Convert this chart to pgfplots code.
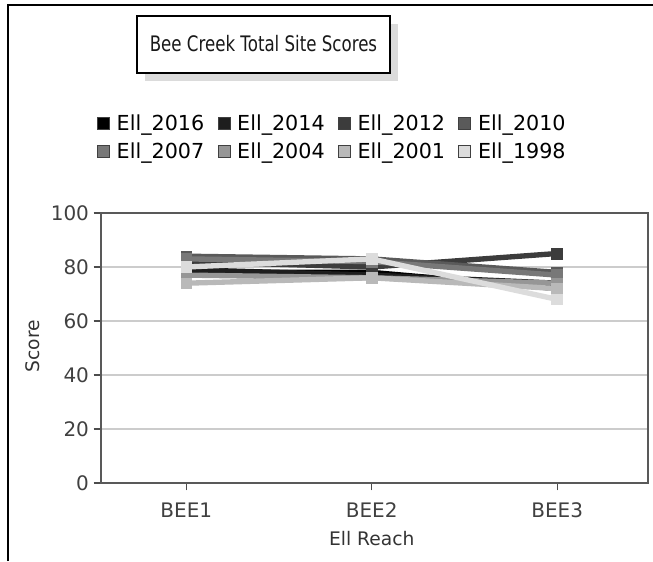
\documentclass[border=0pt]{standalone}
\usepackage{fontspec}
\setmainfont{DejaVu Sans}
\usepackage{pgfplots}
\pgfplotsset{compat=1.18}

\definecolor{c2016}{HTML}{000000}
\definecolor{c2014}{HTML}{1E1E1E}
\definecolor{c2012}{HTML}{3C3C3C}
\definecolor{c2010}{HTML}{5A5A5A}
\definecolor{c2007}{HTML}{787878}
\definecolor{c2004}{HTML}{969696}
\definecolor{c2001}{HTML}{B9B9B9}
\definecolor{c1998}{HTML}{DCDCDC}

\pgfplotsset{
  ell/.style={color=#1, line width=4pt, mark=square*, mark size=4pt,
    mark options={line width=0.5pt}},
}

\begin{document}
\begin{tikzpicture}[x=0.75pt,y=0.75pt]
\path[use as bounding box] (0,0) rectangle (653,561);
% outer frame
\draw[line width=1.5pt] (8,0) -- (8,556) -- (653,556);
% title box with shadow
\fill[black!14] (145,480) rectangle (398,537);
\draw[fill=white, line width=1.1pt] (137,488) rectangle (390,545);
\node[font=\fontsize{16}{18}\selectfont, xscale=0.78, text=black!90] at (263.5,517) {Bee Creek Total Site Scores};

\begin{axis}[
  at={(75.75pt,58.5pt)}, anchor=south west,
  scale only axis, width=410.25pt, height=202.5pt,
  xmin=0.54, xmax=3.49, ymin=0, ymax=100,
  xtick={1,2,3}, xticklabels={BEE1,BEE2,BEE3},
  ytick={0,20,40,60,80,100},
  tick align=outside, xtick pos=bottom, ytick pos=left,
  major tick length=5.5pt,
  tick style={draw=black!70, line width=0.8pt},
  axis line style={draw=black!65, line width=1pt},
  ymajorgrids, grid style={draw=black!20, line width=0.8pt},
  ticklabel style={font=\fontsize{15}{17}\selectfont, text=black!75},
  xticklabel style={yshift=-6pt},
  /pgf/number format/assume math mode=true,
  xlabel={Ell Reach}, ylabel={Score},
  label style={font=\fontsize{14}{16}\selectfont, text=black!80},
  xlabel style={at={(axis description cs:0.495,-0.204)}, anchor=center},
  ylabel style={at={(axis description cs:-0.124,0.507)}, anchor=center},
  legend columns=4,
  legend style={at={(axis description cs:-0.015,1.385)}, anchor=north west,
    draw=none, fill=none, font=\fontsize{15.5}{17}\selectfont,
    /tikz/every odd column/.append style={column sep=3pt},
    /tikz/every even column/.append style={column sep=8pt},
    row sep=4pt},
  legend image code/.code={\filldraw[#1, draw=black!75, line width=0.75pt] (0pt,-4.5pt) rectangle (9pt,4.5pt);},
  clip=false,
]
\addplot[ell=c2016] coordinates {(1,78) (2,78) (3,72)};
\addplot[ell=c2014] coordinates {(1,79) (2,77) (3,74)};
\addplot[ell=c2012] coordinates {(1,82) (2,80) (3,85)};
\addplot[ell=c2010] coordinates {(1,84) (2,83) (3,78)};
\addplot[ell=c2007] coordinates {(1,83) (2,82) (3,77)};
\addplot[ell=c2004] coordinates {(1,77) (2,76) (3,74)};
\addplot[ell=c2001] coordinates {(1,74) (2,76) (3,72)};
\addplot[ell=c1998] coordinates {(1,80) (2,83) (3,68)};
\legend{Ell\_2016,Ell\_2014,Ell\_2012,Ell\_2010,Ell\_2007,Ell\_2004,Ell\_2001,Ell\_1998}
\end{axis}
\end{tikzpicture}
\end{document}
